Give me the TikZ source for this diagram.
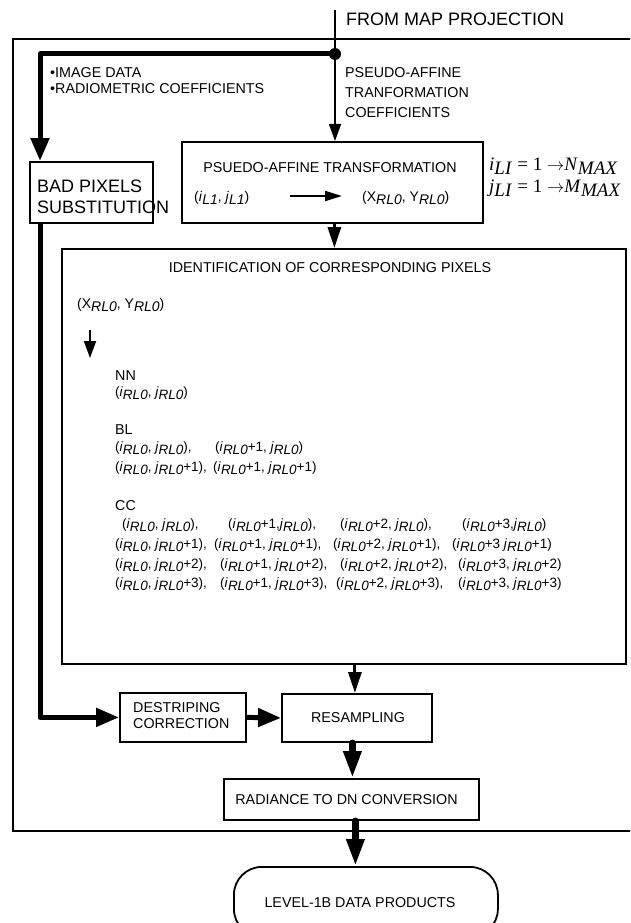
\documentclass[tikz,border=0pt]{standalone}
\usepackage{fontspec}
\setmainfont{Liberation Sans}
\newfontfamily\formulafont{Liberation Serif}
\usetikzlibrary{arrows.meta}

% lowered italic index, e.g. the RL0 after i or j
\newcommand\lsub[1]{\raisebox{-3.5pt}{\itshape #1}}
\newcommand\vi{\textit{i}\lsub{RL0}}
\newcommand\vj{\textit{j}\lsub{RL0}}
% lowered index of the range formulas
\newcommand\rsub[1]{\raisebox{-4.5pt}{\itshape #1}}

\begin{document}
\begin{tikzpicture}[x=1pt,y=-1pt,
  every node/.style={inner sep=0pt, font=\fontsize{14.3}{16}\selectfont},
  boxnode/.style={draw, line width=1.8pt, anchor=north west},
  lbl/.style={anchor=west},
  idx/.style={anchor=west, font=\fontsize{13.5}{16}\selectfont},
  rangetext/.style={anchor=west, font=\formulafont\fontsize{19}{21}\selectfont},
  thinline/.style={line width=1.8pt},
  thinarrow/.style={line width=1.8pt, -{Triangle[length=17pt,width=12pt]}},
  midarrow/.style={line width=3pt, -{Triangle[length=21pt,width=13pt]}},
  thickarrow/.style={line width=5pt, line join=round, -{Triangle[length=23pt,width=18pt]}},
  bigarrow/.style={line width=6.5pt, line cap=round, -{Triangle[length=27pt,width=17pt]}}
]
\useasboundingbox (0,0) rectangle (630,923);
\clip (0,0) rectangle (630,923);
\fill[white] (0,0) rectangle (630,923);

% outer frame (runs on past the right edge)
\draw[thinline] (13,39) rectangle (660,831);

% boxes
\node[boxnode, minimum width=123pt, minimum height=61pt] (bps) at (29,161) {};
\node[boxnode, minimum width=301pt, minimum height=81pt] (pa) at (181,141) {};
\node[boxnode, minimum width=564pt, minimum height=415pt] (id) at (61,248) {};
\node[boxnode, minimum width=126pt, minimum height=49pt] (ds) at (119,692) {};
\node[anchor=north west, align=left] (dstxt) at (133,702) {DESTRIPING\\CORRECTION};
\node[boxnode, minimum width=150pt, minimum height=48pt] (rs) at (281,693) {};
\node (rstxt) at (358,718) {RESAMPLING};
\node[boxnode, minimum width=255pt, minimum height=41pt] (rd) at (223,778) {};
\node (rdtxt) at (346.5,800) {RADIANCE TO DN CONVERSION};
\node[boxnode, minimum width=264pt, minimum height=70pt, rounded corners=28pt] (term) at (233,866) {};
\node (termtxt) at (360,903) {LEVEL-1B DATA PRODUCTS};

% incoming data
\node[anchor=west, font=\fontsize{18}{20}\selectfont] (fmp) at (346,19) {FROM MAP PROJECTION};
\coordinate (src) at (335,10);
\coordinate (junc) at (335,54);
\coordinate (lt) at (40,54);

\node[lbl] (imd) at (50,73) {\textbullet IMAGE DATA};
\node[lbl] (rmc) at (50,89) {\textbullet RADIOMETRIC COEFFICIENTS};
\node[lbl] (pac1) at (345,73) {PSEUDO-AFFINE};
\node[lbl] (pac2) at (345,93) {TRANFORMATION};
\node[lbl] (pac3) at (345,113) {COEFFICIENTS};

% bad pixels label overflows its box
\node[anchor=north west, align=left, font=\fontsize{18}{20.5}\selectfont] (bpt) at (37,180) {BAD PIXELS\\SUBSTITUTION};

% pseudo-affine box contents
\node (patitle) at (330,168) {PSUEDO-AFFINE TRANSFORMATION};
\node[idx, font=\fontsize{14}{16}\selectfont] (ij) at (194,198) {(\textit{i}\lsub{L1}, \textit{j}\lsub{L1})};
\node[idx, font=\fontsize{14}{16}\selectfont] (xy) at (362,198) {(X\lsub{RL0}, Y\lsub{RL0})};
\coordinate (pa1) at (290,196);
\coordinate (pa2) at (342,196);
\draw[line width=2.2pt, -{Triangle[length=17pt,width=10pt]}] (pa1) -- (pa2);

% index ranges
\node[rangetext] (rng1) at (489,166)
  {\textit{i}\rsub{LI}\hspace{6pt}= 1 $\rightarrow$\textit{N}\rsub{MAX}};
\node[rangetext] (rng2) at (489,188)
  {\textit{j}\rsub{LI}\hspace{6pt}= 1 $\rightarrow$\textit{M}\rsub{MAX}};

% identification box contents
\node (idtitle) at (330,268) {IDENTIFICATION OF CORRESPONDING PIXELS};
\node[idx, font=\fontsize{14}{16}\selectfont] (xy2) at (77,305) {(X\lsub{RL0}, Y\lsub{RL0})};
\coordinate (ida) at (90,330);
\coordinate (idb) at (90,358);
\draw[line width=2pt, -{Triangle[length=17pt,width=12pt]}] (ida) -- (idb);

\node[lbl] (nn) at (115,376) {NN};
\node[idx] (nn1) at (115,393) {(\vi, \vj)};

\node[lbl] (bl) at (115,430) {BL};
\node[idx] (bl11) at (115,448) {(\vi, \vj),};
\node[idx] (bl12) at (215,448) {(\vi+1, \vj)};
\node[idx] (bl21) at (115,468) {(\vi, \vj+1),};
\node[idx] (bl22) at (213,468) {(\vi+1, \vj+1)};

\node[lbl] (cc) at (115,506) {CC};
\node[idx] (cc11) at (122,525) {(\vi, \vj),};
\node[idx] (cc12) at (228,525) {(\vi+1,\vj),};
\node[idx] (cc13) at (340,525) {(\vi+2, \vj),};
\node[idx] (cc14) at (462,525) {(\vi+3,\vj)};
\node[idx] (cc21) at (115,545) {(\vi, \vj+1),};
\node[idx] (cc22) at (214,545) {(\vi+1, \vj+1),};
\node[idx] (cc23) at (333,545) {(\vi+2, \vj+1),};
\node[idx] (cc24) at (452,545) {(\vi+3 \vj+1)};
\node[idx] (cc31) at (115,565) {(\vi, \vj+2),};
\node[idx] (cc32) at (220,565) {(\vi+1, \vj+2),};
\node[idx] (cc33) at (340,565) {(\vi+2, \vj+2),};
\node[idx] (cc34) at (458,565) {(\vi+3, \vj+2)};
\node[idx] (cc41) at (115,584) {(\vi, \vj+3),};
\node[idx] (cc42) at (220,584) {(\vi+1, \vj+3),};
\node[idx] (cc43) at (336,584) {(\vi+2, \vj+3),};
\node[idx] (cc44) at (458,584) {(\vi+3, \vj+3)};

% connectors
\draw[thinarrow] (src) -- (src |- pa.north);
\draw[thickarrow] (junc) -- (lt) -- (lt |- bps.north);
\fill (junc) circle (6pt);
\draw[thickarrow] (lt |- bps.south) |- (ds.west);
\draw[thickarrow] (ds.east) -- (rs.west);
\draw[midarrow] ([xshift=2pt]pa.south) -- ([xshift=2pt]pa.south |- id.north);
\draw[midarrow] ([xshift=-2pt]rs.north |- id.south) -- ([xshift=-2pt]rs.north);
\draw[bigarrow] ([xshift=1pt]rd.north |- rs.south) -- ([xshift=1pt]rd.north);
\draw[bigarrow] ([xshift=4pt]rd.south) -- ([xshift=4pt]rd.south |- term.north);
\end{tikzpicture}
\end{document}
